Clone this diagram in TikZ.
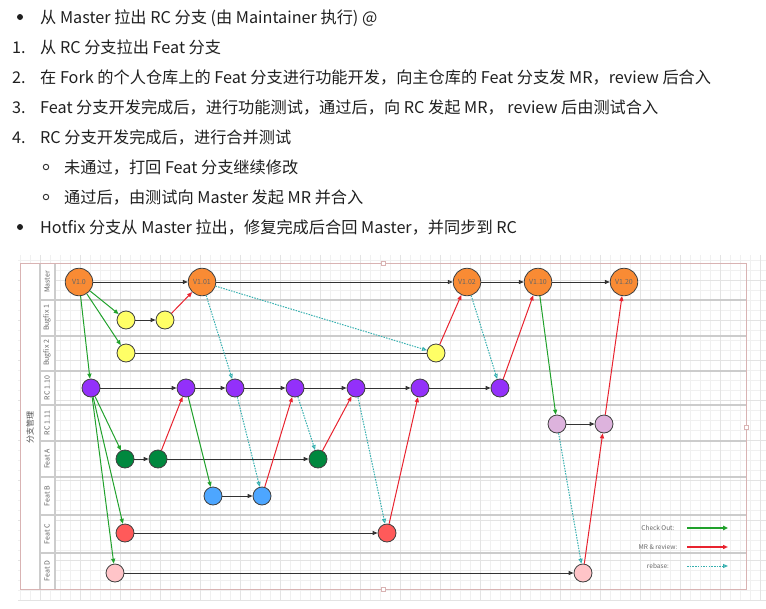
\documentclass[tikz,border=0pt]{standalone}
\usepackage{fontspec}
\setmainfont{Noto Sans CJK SC}
\usetikzlibrary{arrows.meta}
\definecolor{mastercol}{HTML}{F98B34}
\definecolor{bugcol}{HTML}{FFFF66}
\definecolor{rccol}{HTML}{9330FA}
\definecolor{rcbcol}{HTML}{DDB3DD}
\definecolor{featacol}{HTML}{00883E}
\definecolor{featbcol}{HTML}{4DA6FF}
\definecolor{featccol}{HTML}{FF5A5A}
\definecolor{featdcol}{HTML}{FFC4C8}
\definecolor{cocol}{HTML}{21A12C}
\definecolor{mrcol}{HTML}{E8232F}
\definecolor{rbcol}{HTML}{36AFAF}
\definecolor{linecol}{HTML}{333333}
\definecolor{lanecol}{HTML}{CCCCCC}
\definecolor{selcol}{HTML}{D9B3B3}

\begin{document}
\begin{tikzpicture}[x=1pt,y=-1pt,>={Triangle[length=5pt,width=4pt]},
  txt/.style={anchor=base west,inner sep=0pt,font=\fontsize{16.2}{19}\selectfont,text=black!88},
  dot/.style={circle,fill=black!88,inner sep=0pt,minimum size=6pt},
  ring/.style={circle,draw=black!80,line width=0.9pt,inner sep=0pt,minimum size=5.5pt},
  cmt/.style={circle,draw=black!75,line width=0.8pt,inner sep=0pt,minimum size=18pt},
  ver/.style={cmt,minimum size=27.5pt,fill=mastercol,font=\fontsize{7}{8}\selectfont,text=black!60},
  lane/.style={rotate=90,font=\fontsize{7}{8}\selectfont,text=black!60},
  go/.style={->,color=linecol,line width=1pt},
  co/.style={->,color=cocol,line width=1pt},
  mr/.style={->,color=mrcol,line width=1pt},
  rb/.style={-{Triangle[open,length=5pt,width=4pt]},color=rbcol,line width=1pt,dash pattern=on 1.5pt off 1.2pt},
  leg/.style={font=\fontsize{6.5}{8}\selectfont,text=black!60}]
\useasboundingbox (0,0) rectangle (766,608);

% list above the diagram
\node[dot] (i0) at (20,17) {}; \node[txt] (t0) at (40,23) {从 Master 拉出 RC 分支 (由 Maintainer 执行) @};
\node[txt] (n1) at (12,53) {1.}; \node[txt] (t1) at (40,53) {从 RC 分支拉出 Feat 分支};
\node[txt] (n2) at (12,83) {2.}; \node[txt] (t2) at (40,83) {在 Fork 的个人仓库上的 Feat 分支进行功能开发，向主仓库的 Feat 分支发 MR，review 后合入};
\node[txt] (n3) at (12,113) {3.}; \node[txt] (t3) at (40,113) {Feat 分支开发完成后，进行功能测试，通过后，向 RC 发起 MR， review 后由测试合入};
\node[txt] (n4) at (12,143) {4.}; \node[txt] (t4) at (40,143) {RC 分支开发完成后，进行合并测试};
\node[ring] (i5) at (46,167) {}; \node[txt] (t5) at (64,173) {未通过，打回 Feat 分支继续修改};
\node[ring] (i6) at (46,197) {}; \node[txt] (t6) at (64,203) {通过后，由测试向 Master 发起 MR 并合入};
\node[dot] (i7) at (20,227) {}; \node[txt] (t7) at (40,233) {Hotfix 分支从 Master 拉出，修复完成后合回 Master，并同步到 RC};

% pool with lanes
\draw[black!6,step=10pt] (18,255) grid (766,600);
\draw[black!11,step=40pt] (18,255) grid (766,600);
\fill[white] (20,263) rectangle (55,589);
\draw[lanecol,line width=1.2pt] (40,263) -- (40,589) (55,263) -- (55,589);
\foreach \y in {300,336,371,405,441,477,515,553}
  \draw[lanecol,line width=1.2pt] (40,\y) -- (746,\y);
\draw[selcol,line width=0.8pt] (20,263) rectangle (746,589);
\foreach \p in {(383,263),(383,589),(746,427)}
  \draw[selcol,fill=white,line width=0.6pt] \p ++(-2,-2) rectangle ++(4,4);
\node[rotate=90,font=\fontsize{8}{9}\selectfont,text=black!70] (pool) at (30,427) {分支管理};
\node[lane] (lmaster) at (47,282) {Master};
\node[lane] (lbug1) at (47,318) {Bugfix 1};
\node[lane] (lbug2) at (47,353) {Bugfix 2};
\node[lane] (lrc10) at (47,388) {RC 1.10};
\node[lane] (lrc11) at (47,423) {RC 1.11};
\node[lane] (lfa) at (47,459) {Feat A};
\node[lane] (lfb) at (47,496) {Feat B};
\node[lane] (lfc) at (47,534) {Feat C};
\node[lane] (lfd) at (47,571) {Feat D};

% commits
\node[ver] (m0) at (79,282) {V1.0}; \node[ver] (m1) at (202,282) {V1.01}; \node[ver] (m2) at (467,282) {V1.02};
\node[ver] (m3) at (538,282) {V1.10}; \node[ver] (m4) at (624,282) {V1.20};
\node[cmt,fill=bugcol] (b1a) at (126,320) {}; \node[cmt,fill=bugcol] (b1b) at (165,320) {};
\node[cmt,fill=bugcol] (b2a) at (126,353) {}; \node[cmt,fill=bugcol] (b2b) at (436,353) {};
\node[cmt,fill=rccol] (r1) at (91,388) {}; \node[cmt,fill=rccol] (r2) at (186,388) {}; \node[cmt,fill=rccol] (r3) at (235,388) {};
\node[cmt,fill=rccol] (r4) at (295,388) {}; \node[cmt,fill=rccol] (r5) at (356,388) {}; \node[cmt,fill=rccol] (r6) at (420,388) {};
\node[cmt,fill=rccol] (r7) at (500,388) {};
\node[cmt,fill=rcbcol] (s1) at (557,424) {}; \node[cmt,fill=rcbcol] (s2) at (604,424) {};
\node[cmt,fill=featacol] (fa1) at (125,459) {}; \node[cmt,fill=featacol] (fa2) at (158,459) {}; \node[cmt,fill=featacol] (fa3) at (318,459) {};
\node[cmt,fill=featbcol] (fb1) at (213,496) {}; \node[cmt,fill=featbcol] (fb2) at (262,496) {};
\node[cmt,fill=featccol] (fc1) at (125,533) {}; \node[cmt,fill=featccol] (fc2) at (387,533) {};
\node[cmt,fill=featdcol] (fd1) at (115,573) {}; \node[cmt,fill=featdcol] (fd2) at (583,573) {};

% connectors
\path[go] (m0) edge (m1) (m2) edge (m3) (m3) edge (m4) (b1a) edge (b1b)
 (r1) edge (r2) (r2) edge (r3) (r3) edge (r4) (r4) edge (r5) (r5) edge (r6) (r6) edge (r7)
 (s1) edge (s2) (fa1) edge (fa2) (fa2) edge (fa3) (fb1) edge (fb2) (fc1) edge (fc2) (fd1) edge (fd2);
\path[go] (m1) edge[-{Triangle[open,length=5pt,width=4pt]}] (m2) (b2a) edge[-] (b2b);
\path[co] (m0) edge (b1a) edge (b2a) edge (r1) (r1) edge (fa1) edge (fc1) edge (fd1) (r2) edge (fb1) (m3) edge (s1);
\path[mr] (b1b) edge (m1) (b2b) edge (m2) (fa2) edge (r2) (fb2) edge (r4) (fa3) edge (r5)
 (fc2) edge (r6) (r7) edge (m3) (fd2) edge (s2) (s2) edge (m4);
\path[rb] (m1) edge (r3) edge (b2b) (r3) edge (fb2) (r4) edge (fa3) (r5) edge (fc2) (m2) edge (r7) (s1) edge (fd2);

% legend
\node[leg] (lgco) at (658,528) {Check Out:}; \node[leg] (lgmr) at (658,547) {MR \& review:}; \node[leg] (lgrb) at (658,566) {rebase:};
\coordinate (co1) at (687,528); \coordinate (co2) at (728,528);
\coordinate (mr1) at (687,547); \coordinate (mr2) at (728,547);
\coordinate (rb1) at (687,566); \coordinate (rb2) at (728,566);
\draw[co,line width=1.8pt,-{Triangle[length=5pt,width=4.5pt]}] (co1) -- (co2);
\draw[mr,line width=1.4pt] (mr1) -- (mr2);
\draw[rb] (rb1) -- (rb2);
\end{tikzpicture}
\end{document}
